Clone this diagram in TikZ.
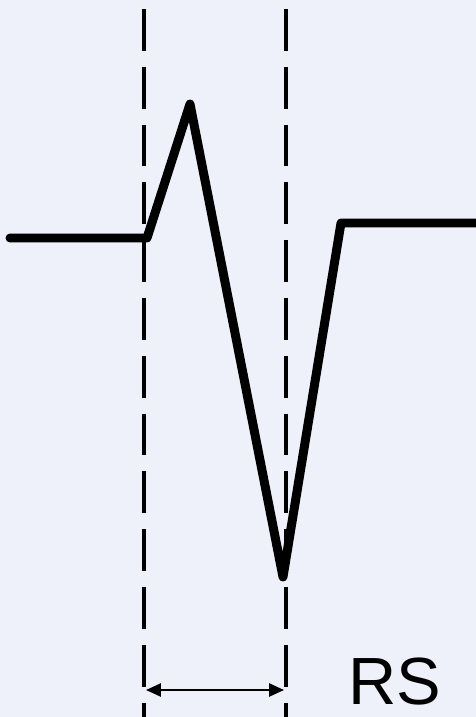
\documentclass[tikz,border=0pt]{standalone}
\usepackage{fontspec}
\setmainfont{Liberation Sans}
\usetikzlibrary{arrows.meta,positioning}
\definecolor{bgpale}{RGB}{239,241,250}
\tikzset{
  guide/.style={line width=2.8pt, dash pattern=on 23.8pt off 9.1pt, dash phase=-5.1pt},
  wave/.style={line width=5.1pt, line join=round, line cap=round},
  span/.style={line width=1.1pt, {Triangle[length=8.5pt,width=7.5pt]}-{Triangle[length=8.5pt,width=7.5pt]}}
}
\begin{document}
\begin{tikzpicture}[x=0.02cm, y=-0.02cm]
  % background
  \fill[bgpale] (0,0) rectangle (476,717);
  \useasboundingbox (0,0) rectangle (476,717);
  % dashed guides at Q onset and S
  \foreach \gx/\gn in {144/qon, 286/soff} {
    \coordinate (\gn top) at (\gx,0);
    \coordinate (\gn bot) at (\gx,717);
    \draw[guide] (\gn top) -- (\gn bot);
  }
  % QRS waveform
  \coordinate (base0) at (10,238);
  \coordinate (qon) at (147,238);
  \coordinate (rpeak) at (190,104);
  \coordinate (strough) at (283,577);
  \coordinate (jpt) at (341,223);
  \coordinate (base1) at (476,223);
  \draw[wave] (base0) -- (qon) -- (rpeak) -- (strough) -- (jpt) -- (base1);
  % RS span
  \coordinate (spanl) at (146,690);
  \coordinate (spanr) at (284,690);
  \draw[span] (spanl) -- (spanr);
  \node[font=\fontsize{38}{42}\selectfont, inner sep=0pt] (rslabel) at (395,682) {RS};
\end{tikzpicture}
\end{document}
